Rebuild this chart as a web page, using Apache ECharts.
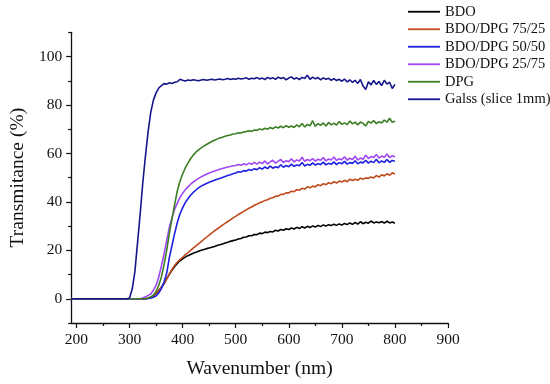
<!DOCTYPE html>
<html>
<head>
<meta charset="utf-8">
<script src="https://cdn.jsdelivr.net/npm/echarts@6/dist/echarts.min.js"></script>
<style>
html,body{margin:0;padding:0;background:#fff;}
#chart{width:550px;height:384px;}
</style>
</head>
<body>
<div id="chart"></div>
<script>
// Wavelength (nm) sample positions
const wavelength = [190,
  295,300,305,310,315,320,325,330,335,340,
  345,350,355,360,365,370,375,380,385,390,
  395,400,405,410,415,420,425,430,435,440,
  445,450,455,460,465,470,475,480,485,490,
  495,500,505,510,515,520,525,530,535,540,
  545,550,555,560,565,570,575,580,585,590,
  595,600,605,610,615,620,625,630,635,640,
  645,650,655,660,665,670,675,680,685,690,
  695,700,705,710,715,720,725,730,735,740,
  745,750,755,760,765,770,775,780,785,790,
  795,800];

const seriesNames = ['BDO','BDO/DPG 75/25','BDO/DPG 50/50','BDO/DPG 25/75','DPG','Galss (slice 1mm)'];

const BDO = [0,
  0,0,0,0,0,0,0,0,0.2,0.5,
  1.2,2.2,3.4,4.7,6.3,8.2,10.1,11.8,13.3,14.6,
  15.7,16.5,17.2,17.8,18.3,18.8,19.2,19.6,20.0,20.3,
  20.7,21.0,21.3,21.6,22.0,22.3,22.6,23.0,23.3,23.7,
  24.0,24.3,24.7,24.9,25.4,25.5,26.0,26.0,26.5,26.5,
  27.1,26.9,27.5,27.3,27.8,27.6,28.3,28.0,28.6,28.3,
  28.9,28.6,29.2,28.8,29.5,29.0,29.8,29.2,29.9,29.4,
  30.1,29.6,30.3,29.8,30.5,30.0,30.6,30.2,30.8,30.3,
  30.9,30.4,31.1,30.6,31.3,30.7,31.5,30.8,31.8,31.0,
  31.6,31.2,32.1,31.3,31.7,31.4,31.9,31.2,32.0,31.3,
  31.7,31.2];

const BDO_DPG_75_25 = [0,
  0,0,0,0,0,0,0,0,0.2,0.5,
  1.2,2.2,3.4,4.7,6.3,8.2,10.2,12.1,13.8,15.1,
  16.2,17.1,18.1,19.0,20.0,20.9,21.8,22.7,23.6,24.5,
  25.4,26.3,27.2,28.0,28.8,29.6,30.4,31.1,31.9,32.6,
  33.4,34.0,34.8,35.4,36.1,36.7,37.4,37.9,38.6,39.0,
  39.6,40.0,40.6,40.9,41.5,41.7,42.3,42.4,43.1,43.1,
  43.7,43.7,44.4,44.2,45.0,44.8,45.6,45.3,46.2,45.8,
  46.5,46.2,47.1,46.7,47.5,47.1,47.9,47.5,48.3,47.8,
  48.6,48.2,48.9,48.3,49.4,48.8,49.3,48.9,49.8,49.3,
  49.9,49.7,50.3,49.9,50.9,50.2,51.2,50.7,51.6,51.0,
  52.0,51.5];

const BDO_DPG_50_50 = [0,
  0,0,0,0,0,0,0,0,0.1,0.3,
  0.6,1.2,2.4,4.2,7,10.5,17,22,27,31.5,
  35,37.5,39.7,41.3,42.7,43.9,44.9,45.8,46.5,47.1,
  47.6,48.1,48.5,48.9,49.3,49.7,50.1,50.5,50.9,51.2,
  51.6,51.9,52.4,52.3,52.9,52.7,53.4,53.0,53.7,53.3,
  54.1,53.5,54.4,53.7,54.8,53.9,54.5,54.1,55.3,54.3,
  55.0,54.5,55.6,54.7,55.2,54.9,56.3,54.8,55.5,55.1,
  56.1,55.2,55.7,55.4,56.4,55.3,55.9,55.5,56.5,55.4,
  56.2,55.7,56.7,55.6,56.2,55.9,57.0,55.7,56.4,56.1,
  57.2,56.0,56.8,56.2,57.6,56.1,56.9,56.3,57.5,56.3,
  57.1,56.8];

const BDO_DPG_25_75 = [0,
  0,0,0,0,0,0,0.3,0.8,1.4,2,
  3.5,5.5,9,13.5,18.5,24,29.5,33.5,37,39.5,
  41.8,43.5,45,46.2,47.3,48.2,49,49.7,50.3,50.9,
  51.4,51.9,52.3,52.7,53.1,53.5,53.8,54.1,54.4,54.6,
  54.9,55.0,55.4,55.1,55.7,55.3,56.0,55.5,56.3,55.6,
  56.4,55.8,56.9,55.7,56.5,57.2,56.0,56.8,57.5,56.2,
  57.0,56.6,57.8,56.5,57.3,56.9,58.4,56.7,57.5,57.0,
  57.9,56.8,57.6,57.2,58.3,56.9,57.7,57.3,58.5,57.1,
  57.8,57.4,58.6,57.2,58.0,57.5,58.8,57.3,58.1,57.6,
  59.3,57.9,58.7,58.3,59.6,58.1,58.9,58.4,59.8,58.3,
  59.1,58.5];

const DPG = [0,
  0,0,0,0,0,0,0,0.1,0.3,0.8,
  1.5,3,5.5,9,14,20,27,33,39,44.5,
  48.5,51.5,54,56,57.8,59.3,60.5,61.5,62.3,63,
  63.7,64.3,64.9,65.4,65.9,66.4,66.7,67.1,67.4,67.6,
  68.0,68.1,68.5,68.4,68.9,69.0,69.4,69.1,69.7,69.5,
  70.1,69.8,70.4,70.0,70.7,70.2,71.0,70.5,71.2,70.6,
  71.5,70.8,71.3,70.7,71.8,71.0,72.4,70.9,72.0,71.4,
  73.5,71.2,72.3,71.6,72.6,71.3,72.8,71.8,72.5,71.7,
  73.2,72.0,72.6,71.9,73.4,72.2,72.9,71.8,73.0,72.4,
  71.3,73.2,72.5,73.6,72.3,73.1,72.6,73.8,72.9,74.5,
  72.8,73.4];

const Glass = [0,
  0,0.3,4,11,23,35,48,59,69,77,
  82,85,87,88,88.8,88.6,89.2,88.9,89.4,89.6,
  90.6,90.2,89.9,90.3,90.1,90.4,90.2,90.0,90.3,90.5,
  90.2,90.4,90.6,90.3,90.5,90.7,90.4,90.6,90.9,90.5,
  90.8,90.6,91.0,90.7,90.9,91.2,90.6,91.0,90.8,91.3,
  90.7,91.1,90.5,91.4,90.8,91.2,90.6,91.5,90.9,91.3,
  90.4,91.1,91.6,90.7,91.2,90.5,91.4,90.9,92.3,90.6,
  91.5,90.8,91.3,90.4,91.2,90.6,91.0,90.2,90.9,90.1,
  90.6,89.8,90.7,89.5,90.4,89.3,90.2,88.9,90.5,87.8,
  86.4,89.6,88.3,90.1,88.5,89.7,88.0,90.2,88.6,89.4,
  86.8,88.5];

const xMajorTicks = [200,300,400,500,600,700,800,900];
const xMinorTicks = [250,350,450,550,650,750,850];
const yMajorTicks = [0,20,40,60,80,100];
const yMinorTicks = [-10,10,30,50,70,90,110];

const colors = ['#000000','#c04a1c','#1f1fe0','#a046f2','#3b7d22','#16168a'];
const allValues = [BDO, BDO_DPG_75_25, BDO_DPG_50_50, BDO_DPG_25_75, DPG, Glass];

const FONT = "'Liberation Serif','Times New Roman',serif";
const chart = echarts.init(document.getElementById('chart'), null, {renderer:'canvas'});

const series = seriesNames.map((name, k) => ({
  name: name,
  type: 'line',
  xAxisIndex: 0,
  yAxisIndex: 0,
  symbol: 'none',
  showSymbol: false,
  animation: false,
  data: wavelength.map((w, i) => [w, allValues[k][i]]),
  lineStyle: {color: colors[k], width: 1.6},
  itemStyle: {color: colors[k]},
  z: 2 + k
}));

chart.setOption({
  animation: false,
  backgroundColor: '#ffffff',
  color: colors,
  grid: {left: 52.7, right: 102, top: 32.3, bottom: 59, containLabel: false},
  legend: {
    orient: 'vertical',
    left: 408,
    top: 3,
    padding: 0,
    icon: 'rect',
    itemWidth: 32,
    itemHeight: 1.8,
    itemGap: 0,
    textStyle: {fontFamily: FONT, fontSize: 14.5, color: '#111', lineHeight: 17.5},
    data: seriesNames.map((n, k) => ({name: n, itemStyle: {color: colors[k], borderWidth: 0}}))
  },
  xAxis: [{
    type: 'value',
    min: 190, max: 900,
    name: 'Wavenumber (nm)',
    nameLocation: 'middle',
    nameGap: 36,
    nameTextStyle: {fontFamily: FONT, fontSize: 19.5, color: '#111'},
    axisLine: {show: true, onZero: false, lineStyle: {color: '#111', width: 1.3}},
    axisTick: {show: true, inside: false, length: 5, customValues: xMajorTicks, lineStyle: {color: '#111', width: 1.2}},
    axisLabel: {show: true, customValues: xMajorTicks, margin: 9, fontFamily: FONT, fontSize: 15.5, color: '#111'},
    splitLine: {show: false}
  }, {
    type: 'value',
    min: 190, max: 900,
    position: 'bottom',
    axisLine: {show: false, onZero: false},
    axisTick: {show: true, inside: false, length: 3, customValues: xMinorTicks, lineStyle: {color: '#111', width: 1.2}},
    axisLabel: {show: false},
    splitLine: {show: false}
  }],
  yAxis: [{
    type: 'value',
    min: -10, max: 110,
    name: 'Transmitance (%)',
    nameLocation: 'middle',
    nameGap: 34,
    nameRotate: 90,
    nameTextStyle: {fontFamily: FONT, fontSize: 19.5, color: '#111'},
    axisLine: {show: true, onZero: false, lineStyle: {color: '#111', width: 1.3}},
    axisTick: {show: true, inside: false, length: 5, customValues: yMajorTicks, lineStyle: {color: '#111', width: 1.2}},
    axisLabel: {show: true, customValues: yMajorTicks, margin: 9, fontFamily: FONT, fontSize: 15.5, color: '#111'},
    splitLine: {show: false}
  }, {
    type: 'value',
    min: -10, max: 110,
    position: 'left',
    axisLine: {show: false, onZero: false},
    axisTick: {show: true, inside: false, length: 3, customValues: yMinorTicks, lineStyle: {color: '#111', width: 1.2}},
    axisLabel: {show: false},
    splitLine: {show: false}
  }],
  series: series
});
</script>
</body>
</html>
